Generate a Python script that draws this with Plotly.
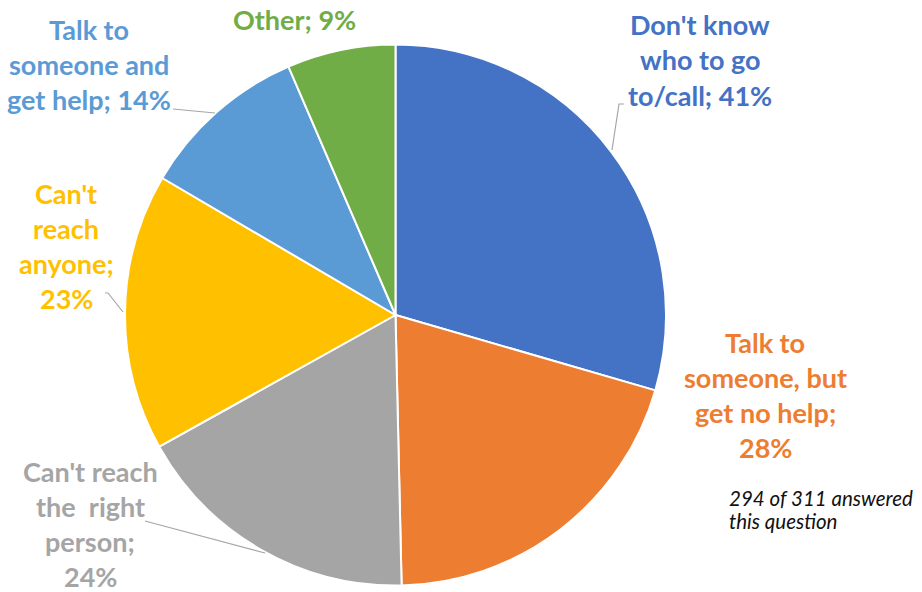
import plotly.graph_objects as go

W, H = 922, 592

categories = [
    ["Don't know", "who to go", "to/call"],
    ["Talk to", "someone, but", "get no help;"],
    ["Can't reach", "the  right", "person;"],
    ["Can't", "reach", "anyone;"],
    ["Talk to", "someone and", "get help"],
    ["Other"],
]
values = [41, 28, 24, 23, 14, 9]
pct_labels = ["41%", "28%", "24%", "23%", "14%", "9%"]
pct_own_line = [False, True, True, True, False, False]
colors = ["#4472C4", "#ED7D31", "#A5A5A5", "#FFC000", "#5B9BD5", "#70AD47"]
footnote = ["294 of 311 answered", "this question"]

# label block centers (px) and leader lines (px)
label_pos = [(700, 60), (765, 395), (90, 524), (66, 246), (89, 65), (294, 20)]
leaders = [
    [(624, 104), (619, 104), (612, 150)],
    None,
    [(145, 521), (265, 553)],
    [(105, 293), (108, 293), (123, 312)],
    [(173, 109), (215, 113)],
    None,
]
LINE = 35

def px(x, y):
    return x / W, 1 - y / H

cx, cy, r = 395.5, 315, 270.5
fig = go.Figure(go.Pie(
    values=values,
    labels=[" ".join(c) for c in categories],
    sort=False,
    direction="clockwise",
    rotation=0,
    marker=dict(colors=colors, line=dict(color="white", width=2)),
    textinfo="none",
    hoverinfo="label+value",
    showlegend=False,
    domain=dict(x=[(cx - r) / W, (cx + r) / W], y=[1 - (cy + r) / H, 1 - (cy - r) / H]),
))

annotations = []
for lines, pct, own, col, (lx, ly) in zip(categories, pct_labels, pct_own_line, colors, label_pos):
    lines = list(lines)
    if own:
        lines = lines + [pct]
    else:
        lines[-1] = lines[-1] + "; " + pct
    n = len(lines)
    for i, t in enumerate(lines):
        ax, ay = px(lx, ly + (i - (n - 1) / 2) * LINE)
        annotations.append(dict(
            text="<b>" + t + "</b>", x=ax, y=ay, xref="paper", yref="paper",
            xanchor="center", yanchor="middle", showarrow=False, borderpad=0,
            font=dict(family="Lato", size=27, color=col),
        ))
for i, t in enumerate(footnote):
    fx, fy = px(728, 498 + i * 23)
    annotations.append(dict(
        text="<i>" + t + "</i>", x=fx, y=fy, xref="paper", yref="paper",
        xanchor="left", yanchor="middle", showarrow=False, borderpad=0,
        font=dict(family="Lato", size=20.5, color="#111111"),
    ))

shapes = []
for pts in leaders:
    if not pts:
        continue
    path = "M " + " L ".join(f"{px(x, y)[0]},{px(x, y)[1]}" for x, y in pts)
    shapes.append(dict(type="path", path=path, xref="paper", yref="paper",
                       line=dict(color="#A6A6A6", width=1.2)))

fig.update_layout(
    width=W, height=H,
    margin=dict(l=0, r=0, t=0, b=0),
    paper_bgcolor="white", plot_bgcolor="white",
    annotations=annotations, shapes=shapes,
)
fig.write_html("out.html")
